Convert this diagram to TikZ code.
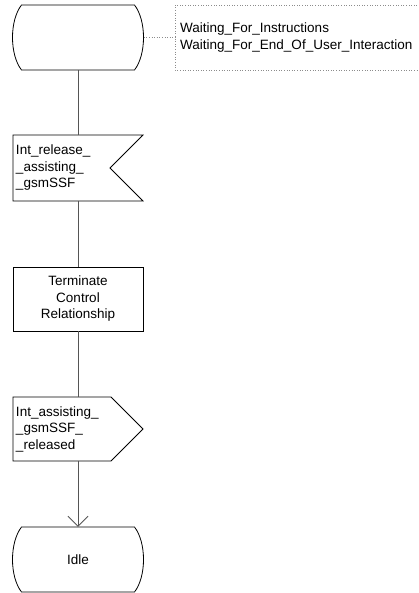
\documentclass[tikz,border=0pt]{standalone}
\usepackage{fontspec}
\setmainfont{Liberation Sans}
\usepackage{tikz}
\usetikzlibrary{arrows.meta,calc}
\definecolor{flow}{HTML}{555555}
\definecolor{note}{HTML}{8C8C8C}
\tikzset{
  outl/.style={draw=black,line width=0.8pt,line join=miter},
  conn/.style={draw=flow,line width=0.8pt},
  notel/.style={draw=note,line width=0.6pt,dotted},
  lbl/.style={inner sep=0pt,font=\fontsize{13.5}{16.5}\selectfont},
  >={Straight Barb[length=10pt,width=20pt,line width=0.8pt]}
}
% SDL state: name, cx, cy, text
\newcommand{\sdlstate}[4]{%
  \draw[outl] (#2-56.5,#3-32.5) -- (#2+56.5,#3-32.5)
    .. controls (#2+68.5,#3-17) and (#2+68.5,#3+17) .. (#2+56.5,#3+32.5)
    -- (#2-56.5,#3+32.5)
    .. controls (#2-68.5,#3+17) and (#2-68.5,#3-17) .. cycle;
  \node[lbl,minimum width=131pt,minimum height=65pt,align=center] (#1) at (#2,#3) {#4};
}
% input signal (notch on the right)
\newcommand{\sdlinput}[4]{%
  \draw[outl] (#2-65,#3-33) -- (#2+65,#3-33) -- (#2+32,#3) -- (#2+65,#3+33)
    -- (#2-65,#3+33) -- cycle;
  \node[lbl,minimum width=130pt,minimum height=66pt,text width=124pt,inner xsep=3pt,align=left] (#1) at (#2,#3) {#4};
}
% output signal (point on the right)
\newcommand{\sdloutput}[4]{%
  \draw[outl] (#2-65,#3-32) -- (#2+33,#3-32) -- (#2+65,#3) -- (#2+33,#3+32)
    -- (#2-65,#3+32) -- cycle;
  \node[lbl,minimum width=130pt,minimum height=64pt,text width=124pt,inner xsep=3pt,align=left] (#1) at (#2,#3) {#4};
}
% task box
\newcommand{\sdltask}[4]{%
  \draw[outl] (#2-65,#3-32) rectangle (#2+65,#3+32);
  \node[lbl,minimum width=130pt,minimum height=64pt,align=center] (#1) at (#2,#3) {#4};
}

\begin{document}
\begin{tikzpicture}[x=1pt,y=-1pt]
\useasboundingbox (0,0) rectangle (419,593);
\sdlstate{wait}{78}{37.5}{}
\sdlinput{relin}{78}{168}{Int\_release\_\\\_assisting\_\\\_gsmSSF}
\sdltask{term}{78}{299}{Terminate\\Control\\Relationship}
\sdloutput{relout}{78}{429}{Int\_assisting\_\\\_gsmSSF\_\\\_released}
\sdlstate{idle}{78}{559.5}{Idle}
% comment on the first state
\coordinate (cmt) at (175,37.5);
\draw[notel] (430,5) -- (175,5) -- (175,70) -- (430,70);
\draw[notel] (wait.east) -- (cmt);
\node[lbl,anchor=west,align=left] (cmttxt) at (180,37.5)
  {Waiting\_For\_Instructions\\Waiting\_For\_End\_Of\_User\_Interaction};
% flow
\draw[conn] (wait.south) -- (relin.north);
\draw[conn] (relin.south) -- (term.north);
\draw[conn] (term.south) -- (relout.north);
\draw[conn,->] (relout.south) -- (idle.north);
\end{tikzpicture}
\end{document}
